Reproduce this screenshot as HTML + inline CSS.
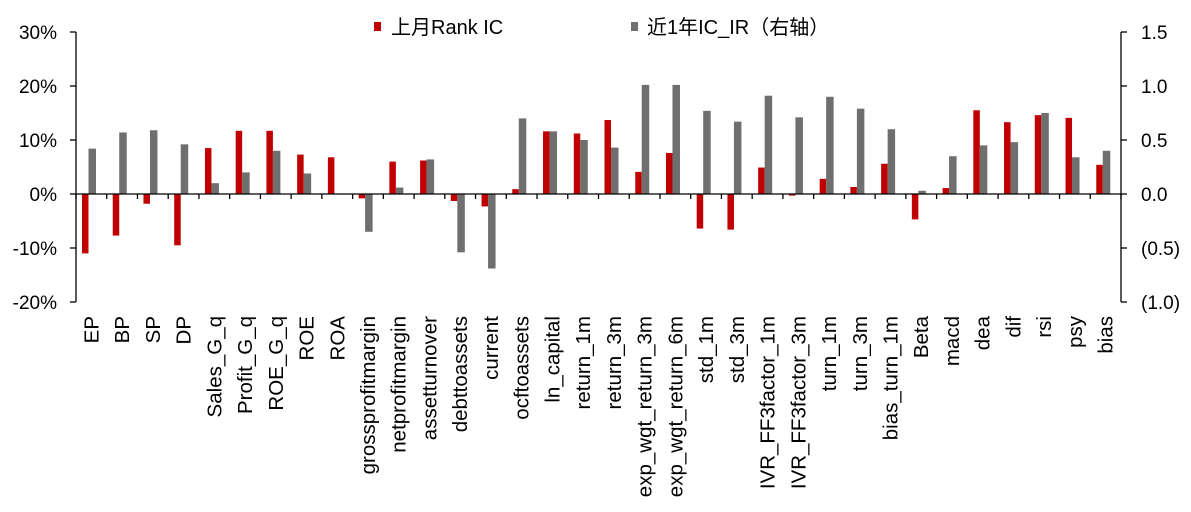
<!DOCTYPE html>
<html><head><meta charset="utf-8"><style>
body{margin:0;background:#fff;}
svg text{font-family:"Liberation Sans","Noto Sans CJK SC",sans-serif;fill:#000;}
</style></head><body>
<svg id="chart" width="1191" height="507" xmlns="http://www.w3.org/2000/svg">
<g>
<g><rect x="374" y="22" width="7" height="9" fill="#c00000"/><text x="391" y="34" font-size="20">上月Rank IC</text></g>
<g><rect x="631" y="22" width="7" height="9" fill="#6f6f6f"/><text x="647" y="34" font-size="20">近1年IC_IR（右轴）</text></g>
</g>
<g id="bars"></g><g id="axes"></g>
</svg>
<script>
const categories=["EP","BP","SP","DP","Sales_G_q","Profit_G_q","ROE_G_q","ROE","ROA","grossprofitmargin","netprofitmargin","assetturnover","debttoassets","current","ocftoassets","ln_capital","return_1m","return_3m","exp_wgt_return_3m","exp_wgt_return_6m","std_1m","std_3m","IVR_FF3factor_1m","IVR_FF3factor_3m","turn_1m","turn_3m","bias_turn_1m","Beta","macd","dea","dif","rsi","psy","bias"];
const rankIC=[-11,-7.7,-1.8,-9.5,8.5,11.7,11.7,7.3,6.8,-0.8,6.0,6.2,-1.3,-2.3,0.9,11.6,11.2,13.7,4.1,7.6,-6.4,-6.6,4.9,-0.3,2.8,1.3,5.6,-4.7,1.1,15.5,13.3,14.6,14.1,5.4];
const icIR=[0.42,0.57,0.59,0.46,0.10,0.20,0.40,0.19,-0.005,-0.35,0.06,0.32,-0.54,-0.69,0.70,0.58,0.50,0.43,1.01,1.01,0.77,0.67,0.91,0.71,0.90,0.79,0.60,0.03,0.35,0.45,0.48,0.75,0.34,0.40];
const leftTicks=[30,20,10,0,-10,-20];
const leftTickLabels=["30%","20%","10%","0%","-10%","-20%"];
const rightTicks=[1.5,1.0,0.5,0,-0.5,-1.0];
const rightTickLabels=["1.5","1.0","0.5","0.0","(0.5)","(1.0)"];
const NS="http://www.w3.org/2000/svg";
const X0=76,X1=1121,Y0=194,PX=5.4;
const bw=(X1-X0)/categories.length;
const yL=v=>Y0-v*PX;
const yR=v=>Y0-v*20*PX;
const xC=i=>X0+i*bw;
function mk(t,a,p){const e=document.createElementNS(NS,t);for(const k in a)e.setAttribute(k,a[k]);p.appendChild(e);return e;}
const bars=document.getElementById('bars'),axes=document.getElementById('axes');
categories.forEach((c,i)=>{
 const x=xC(i);
 let v=rankIC[i];
 const r=mk('rect',{x:x+6,y:Math.min(yL(v),Y0),width:6.5,height:Math.abs(yL(v)-Y0),fill:'#c00000'},bars);
 
 
 v=icIR[i];
 const g=mk('rect',{x:x+12.5,y:Math.min(yR(v),Y0),width:7.5,height:Math.abs(yR(v)-Y0),fill:'#6f6f6f'},bars);
 
 
 const t=mk('text',{x:0,y:0,'font-size':20.5,'text-anchor':'end',transform:`translate(${x+bw/2+7},316) rotate(-90)`},axes);
 t.textContent=c;
 
 
 mk('line',{x1:x,y1:Y0,x2:x,y2:Y0+5,stroke:'#000','stroke-width':1.3},axes);
});
mk('line',{x1:X1,y1:Y0,x2:X1,y2:Y0+5,stroke:'#000','stroke-width':1.3},axes);
const z=mk('line',{x1:X0,y1:Y0,x2:X1,y2:Y0,stroke:'#000','stroke-width':1.3},axes);

const la=mk('line',{x1:X0,y1:yL(30),x2:X0,y2:yL(-20),stroke:'#000','stroke-width':1.3},axes);

const ra=mk('line',{x1:X1,y1:yR(1.5),x2:X1,y2:yR(-1),stroke:'#000','stroke-width':1.3},axes);

leftTicks.forEach((v,i)=>{
 mk('line',{x1:X0-6,y1:yL(v),x2:X0,y2:yL(v),stroke:'#000','stroke-width':1.3},axes);
 const t=mk('text',{x:57,y:yL(v)+7,'font-size':19,'text-anchor':'end'},axes);
 t.textContent=leftTickLabels[i];
 
 
});
rightTicks.forEach((v,i)=>{
 mk('line',{x1:X1,y1:yR(v),x2:X1+6,y2:yR(v),stroke:'#000','stroke-width':1.3},axes);
 const t=mk('text',{x:1141,y:yR(v)+7,'font-size':19},axes);
 t.textContent=rightTickLabels[i];
 
 
});
</script>
</body></html>
